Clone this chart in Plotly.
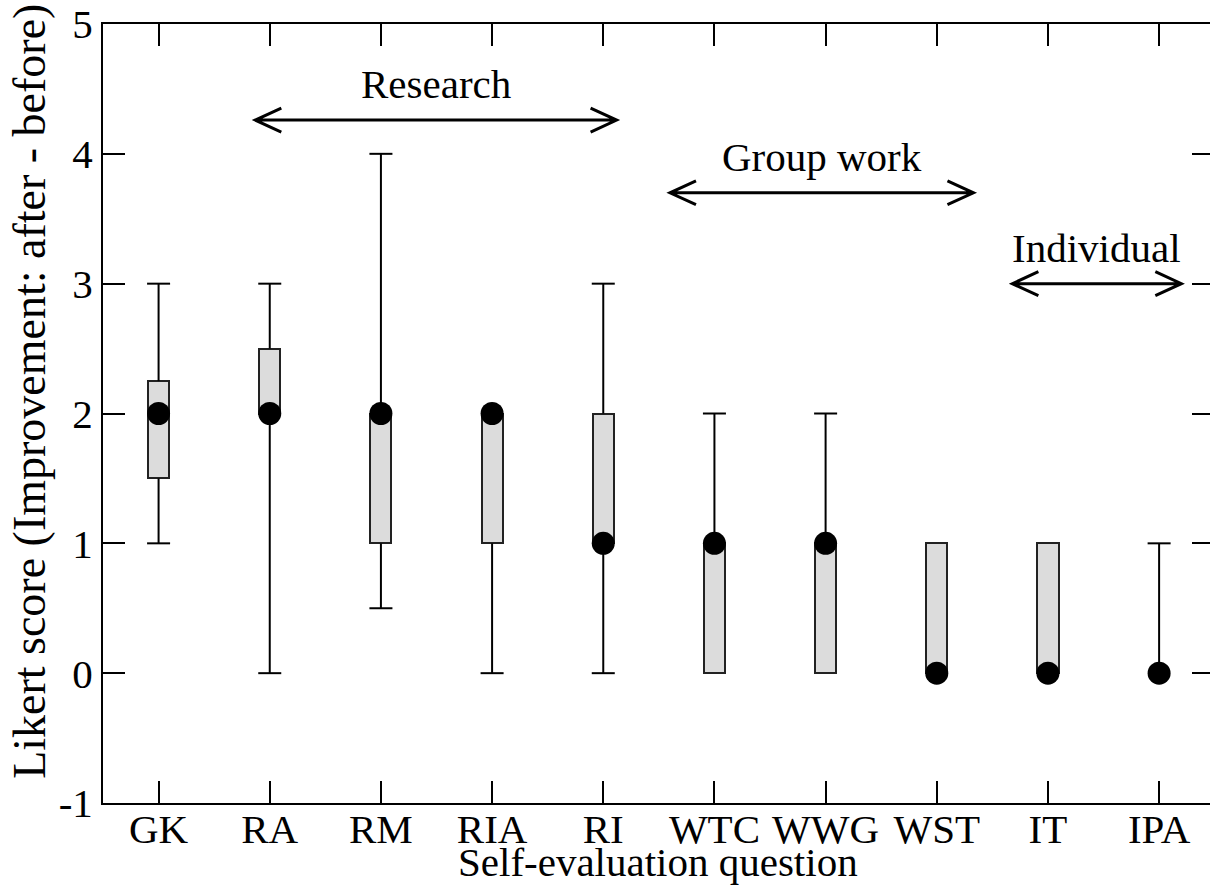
import plotly.graph_objects as go

# ---- data ----
categories = ['GK', 'RA', 'RM', 'RIA', 'RI', 'WTC', 'WWG', 'WST', 'IT', 'IPA']
lower = [1, 0, 0.5, 0, 0, 0, 0, 0, 0, 0]
q1 = [1.5, 2, 1, 1, 1, 0, 0, 0, 0, 0]
median = [2, 2, 2, 2, 1, 1, 1, 0, 0, 0]
q3 = [2.25, 2.5, 2, 2, 2, 1, 1, 1, 1, 0]
upper = [3, 3, 4, 2, 3, 2, 2, 1, 1, 1]

group_names = ['Research', 'Group work', 'Individual']
group_start = [1.87, 5.6, 8.68]
group_end = [5.12, 8.33, 10.2]
group_y = [4.26, 3.70, 3.0]

y_ticks = [-1, 0, 1, 2, 3, 4, 5]
y_ticktext = ['-1', '0', '1', '2', '3', '4', '5']

FONT = 'Liberation Serif'
FS = 41
xpos = list(range(1, len(categories) + 1))
CAP = 0.1035

fig = go.Figure()

# boxes
fig.add_trace(go.Bar(
    x=xpos, y=[b - a for a, b in zip(q1, q3)], base=q1, width=0.19,
    marker=dict(color='#dcdcdc', line=dict(color='#222222', width=2)),
    showlegend=False, hoverinfo='skip'))

# whiskers (outside the box only) + caps
wx, wy = [], []
for x, lo, a, b, hi in zip(xpos, lower, q1, q3, upper):
    if hi > b:
        wx += [x, x, None, x - CAP, x + CAP, None]
        wy += [b, hi, None, hi, hi, None]
    if lo < a:
        wx += [x, x, None, x - CAP, x + CAP, None]
        wy += [a, lo, None, lo, lo, None]
fig.add_trace(go.Scatter(x=wx, y=wy, mode='lines',
                         line=dict(color='black', width=2),
                         showlegend=False, hoverinfo='skip'))

# medians
fig.add_trace(go.Scatter(x=xpos, y=median, mode='markers',
                         marker=dict(color='black', size=23, line=dict(width=0)),
                         showlegend=False))

# dummy trace for right-side ticks
fig.add_trace(go.Scatter(x=[None], y=[None], yaxis='y2', showlegend=False))

# group arrows
DX, DY = 0.234, 0.092
shapes = []
annotations = []
for name, x0, x1, y in zip(group_names, group_start, group_end, group_y):
    path = (f'M{x0},{y} L{x1},{y} '
            f'M{x0 + DX},{y + DY} L{x0},{y} L{x0 + DX},{y - DY} '
            f'M{x1 - DX},{y + DY} L{x1},{y} L{x1 - DX},{y - DY}')
    shapes.append(dict(type='path', path=path, xref='x', yref='y',
                       line=dict(color='black', width=3)))
    annotations.append(dict(x=(x0 + x1) / 2, y=y, xref='x', yref='y',
                            text=name, showarrow=False, yanchor='middle',
                            yshift=36, font=dict(family=FONT, size=FS, color='black')))

# axis titles
annotations.append(dict(x=-0.066, y=0.529, xref='paper', yref='paper',
                        text='Likert score (Improvement: after - before)',
                        textangle=-90, showarrow=False,
                        xanchor='center', yanchor='middle',
                        font=dict(family=FONT, size=46, color='black')))
annotations.append(dict(x=(658 - 103) / 1107, y=(803 - 862) / 779, xref='paper', yref='paper',
                        text='Self-evaluation question', showarrow=False,
                        xanchor='center', yanchor='middle',
                        font=dict(family=FONT, size=FS, color='black')))

fig.update_layout(
    width=1210, height=892,
    margin=dict(l=103, r=0, t=24, b=89),
    paper_bgcolor='white', plot_bgcolor='white',
    font=dict(family=FONT, size=FS, color='black'),
    shapes=shapes, annotations=annotations,
    bargap=0,
    xaxis=dict(
        range=[0.5, 1 + (1210 - 158.3) / 111.2],
        tickmode='array', tickvals=xpos, ticktext=categories,
        ticks='inside', ticklen=22, tickwidth=2, tickcolor='black',
        showline=True, linecolor='black', linewidth=2, mirror='ticks',
        showgrid=False, zeroline=False,
        ticklabelstandoff=-11,
        tickfont=dict(family=FONT, size=FS),
    ),
    yaxis=dict(
        range=[-1, 5], tickmode='array', tickvals=y_ticks, ticktext=y_ticktext,
        ticks='inside', ticklen=22, tickwidth=2, tickcolor='black',
        showline=True, linecolor='black', linewidth=2,
        showgrid=False, zeroline=False,
        tickfont=dict(family=FONT, size=FS),
    ),
    yaxis2=dict(
        range=[-1, 5], overlaying='y', side='right', tickmode='array', tickvals=y_ticks,
        ticks='inside', ticklen=18, tickwidth=2, tickcolor='black',
        showline=False, showticklabels=False, showgrid=False, zeroline=False,
    ),
)

fig.write_html('out.html')
